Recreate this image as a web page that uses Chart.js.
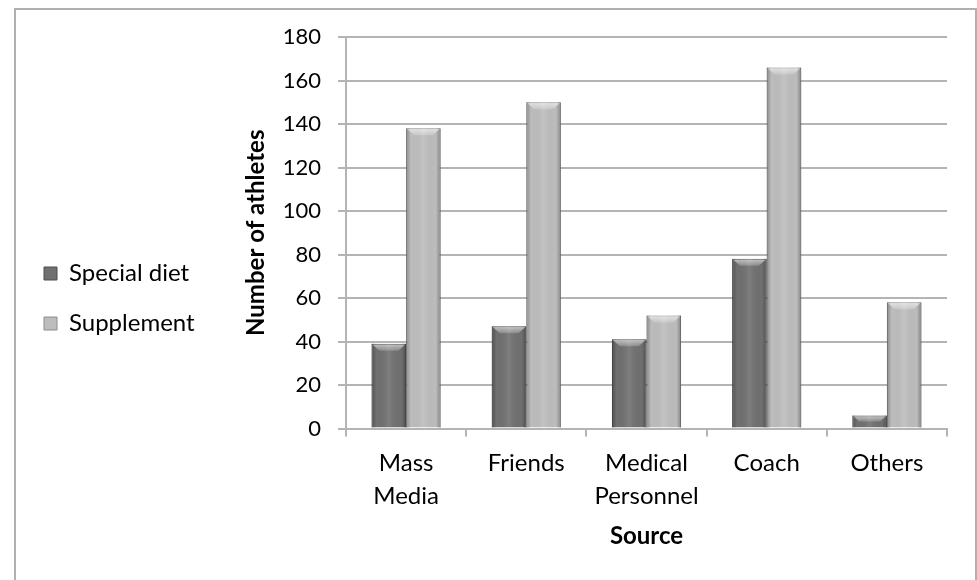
<!DOCTYPE html>
<html>
<head>
<meta charset="utf-8">
<script src="https://cdn.jsdelivr.net/npm/chart.js@4"></script>
<style>
  html, body { margin: 0; padding: 0; background: #ffffff; }
  #wrap { width: 977px; height: 580px; }
</style>
</head>
<body>
<div id="wrap"><canvas id="chart" width="977" height="580"></canvas></div>
<script>
// Sources of information about special diets and supplements
const categories = [["Mass", "Media"], "Friends", ["Medical", "Personnel"], "Coach", "Others"];
const specialDiet = [39, 47, 41, 78, 6];
const supplement = [138, 150, 52, 166, 58];
const yTicks = [0, 20, 40, 60, 80, 100, 120, 140, 160, 180];

const FONT = "Lato, 'Carlito', 'Liberation Sans', sans-serif";
const GRID = "#b4b4b4";
const PAD_LEFT = 18;
const PLOT_LEFT = 346;

// Outer frame around the whole figure
const framePlugin = {
  id: "frame",
  beforeDraw(chart) {
    const ctx = chart.ctx;
    ctx.save();
    ctx.fillStyle = "#ffffff";
    ctx.fillRect(0, 0, chart.width, chart.height);
    ctx.strokeStyle = "#b0b0b0";
    ctx.lineWidth = 2;
    ctx.strokeRect(15, 9, 961, chart.height + 10);
    ctx.restore();
  }
};

// Bevel shading over each bar, using the bar geometry computed by Chart.js
const bevelPlugin = {
  id: "bevel",
  afterDatasetsDraw(chart) {
    const ctx = chart.ctx;
    chart.data.datasets.forEach((ds, di) => {
      const meta = chart.getDatasetMeta(di);
      meta.data.forEach(bar => {
        const p = bar.getProps(["x", "y", "base", "width"], true);
        const l = p.x - p.width / 2, r = p.x + p.width / 2;
        const t = Math.min(p.y, p.base), b = Math.max(p.y, p.base);
        const h = b - t;
        ctx.save();
        // side shading
        const g = ctx.createLinearGradient(l, 0, r, 0);
        g.addColorStop(0, "rgba(0,0,0,0.28)");
        g.addColorStop(0.14, "rgba(0,0,0,0.0)");
        g.addColorStop(0.5, "rgba(255,255,255,0.10)");
        g.addColorStop(0.86, "rgba(0,0,0,0.0)");
        g.addColorStop(1, "rgba(0,0,0,0.30)");
        ctx.fillStyle = g;
        ctx.fillRect(l, t, r - l, h);
        // top bevel
        const d = Math.min(7, h / 2);
        ctx.beginPath();
        ctx.moveTo(l + 1, t + 1);
        ctx.lineTo(r - 1, t + 1);
        ctx.lineTo(r - 1 - d, t + d);
        ctx.lineTo(l + 1 + d, t + d);
        ctx.closePath();
        const tg = ctx.createLinearGradient(0, t, 0, t + d);
        tg.addColorStop(0, "rgba(255,255,255,0.6)");
        tg.addColorStop(1, "rgba(255,255,255,0.18)");
        ctx.fillStyle = tg;
        ctx.fill();
        ctx.restore();
      });
    });
  }
};

new Chart(document.getElementById("chart"), {
  type: "bar",
  data: {
    labels: categories,
    datasets: [
      {
        label: "Special diet",
        data: specialDiet,
        backgroundColor: "#707070",
        borderColor: "#4f4f4f",
        borderWidth: 1,
        categoryPercentage: 0.575,
        barPercentage: 1.0
      },
      {
        label: "Supplement",
        data: supplement,
        backgroundColor: "#bdbdbd",
        borderColor: "#8c8c8c",
        borderWidth: 1,
        categoryPercentage: 0.575,
        barPercentage: 1.0
      }
    ]
  },
  options: {
    responsive: false,
    animation: false,
    devicePixelRatio: 1,
    layout: { padding: { left: PAD_LEFT, top: 37, right: 30, bottom: 20 } },
    plugins: {
      tooltip: { enabled: false },
      legend: {
        position: "left",
        labels: {
          boxWidth: 13,
          boxHeight: 13,
          padding: 26,
          color: "#000000",
          font: { family: FONT, size: 24 }
        }
      }
    },
    scales: {
      x: {
        grid: {
          display: true,
          offset: true,
          drawOnChartArea: false,
          drawTicks: true,
          tickLength: 8,
          color: GRID,
          lineWidth: 2
        },
        border: { display: true, color: GRID, width: 2 },
        ticks: {
          color: "#000000",
          padding: 10,
          maxRotation: 0,
          autoSkip: false,
          font: { family: FONT, size: 24, lineHeight: 1.375 }
        },
        title: {
          display: true,
          text: "Source",
          color: "#000000",
          font: { family: FONT, size: 24, weight: "bold" },
          padding: { top: 0, bottom: 9 }
        },
        afterFit(s) { s.height = 131.5; }
      },
      y: {
        min: 0,
        max: 180,
        afterBuildTicks(s) { s.ticks = yTicks.map(v => ({ value: v })); },
        grid: {
          color: GRID,
          lineWidth: 2,
          drawTicks: true,
          tickLength: 8
        },
        border: { display: true, color: GRID, width: 2 },
        ticks: {
          color: "#000000",
          padding: 17,
          font: { family: FONT, size: 22 }
        },
        title: {
          display: true,
          text: "Number of athletes",
          color: "#000000",
          font: { family: FONT, size: 24, weight: "bold" },
          padding: { top: 37, bottom: 0 }
        },
        afterFit(s) { s.width = PLOT_LEFT - PAD_LEFT - s.chart.legend.width; }
      }
    }
  },
  plugins: [framePlugin, bevelPlugin]
});
</script>
</body>
</html>
